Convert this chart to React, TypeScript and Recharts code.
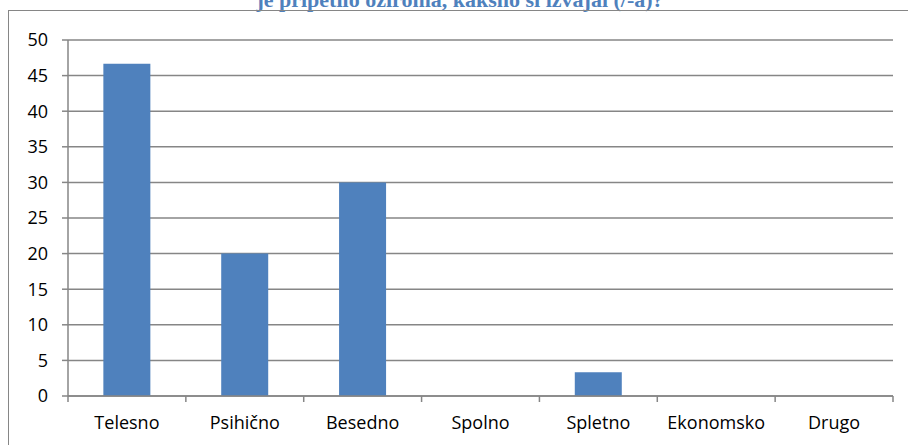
import { BarChart, Bar, XAxis, YAxis, CartesianGrid } from 'recharts';

const categories = ['Telesno', 'Psihično', 'Besedno', 'Spolno', 'Spletno', 'Ekonomsko', 'Drugo'];
const percentages = [46.67, 20, 30, 0, 3.33, 0, 0];
const yTicks = [0, 5, 10, 15, 20, 25, 30, 35, 40, 45, 50];
const titleText = 'je pripetilo oziroma, kakšno si izvajal (/-a)?';

const data = categories.map((name, i) => ({ name, value: percentages[i] }));

const GRID = '#868686';
const BAR = '#4F81BD';
const FONT = '"Open Sans", sans-serif';

function CategoryTick(props: any) {
    const { x, y, payload, index, visibleTicksCount, width } = props;
    const half = payload.offset ?? width / (2 * visibleTicksCount);
    const last = index === visibleTicksCount - 1;
    return (
        <g>
            <line x1={x - half} x2={x - half} y1={y} y2={y + 6} stroke={GRID} strokeWidth={1.5} />
            {last && <line x1={x + half} x2={x + half} y1={y} y2={y + 6} stroke={GRID} strokeWidth={1.5} />}
            <text x={x} y={y + 33} textAnchor="middle" fill="#000" fontFamily={FONT} fontSize={18}>{payload.value}</text>
        </g>
    );
}

export default function App() {
    return (
        <div style={{ position: 'absolute', left: 0, top: 0, width: 908, height: 445, background: '#fff', overflow: 'hidden' }}>
            {/* title is cropped at the top in the source image */}
            <div style={{ position: 'absolute', left: 0, width: 920, top: -13, textAlign: 'center', fontFamily: '"Liberation Serif", serif', fontWeight: 'bold', fontSize: 22, color: BAR, whiteSpace: 'nowrap' }}>{titleText}</div>
            <div style={{ position: 'absolute', left: 8, top: 10, width: 920, height: 460, borderTop: `1.5px solid ${GRID}`, borderLeft: `1.5px solid ${GRID}` }} />
            <div style={{ position: 'absolute', left: 0, top: 0 }}>
                <BarChart width={908} height={445} data={data} margin={{ top: 40, right: 15, bottom: 19, left: 8 }} barCategoryGap="30%">
                    <CartesianGrid vertical={false} stroke={GRID} strokeWidth={1.5} />
                    <XAxis dataKey="name" height={30} axisLine={{ stroke: GRID, strokeWidth: 1.5 }} tickLine={false} tickSize={0} tickMargin={0} interval={0} tick={<CategoryTick />} />
                    <YAxis width={60} domain={[0, 50]} ticks={yTicks} interval={0} axisLine={{ stroke: GRID, strokeWidth: 1.5 }} tickLine={{ stroke: GRID, strokeWidth: 1.5 }} tickSize={6} tickMargin={14} tick={{ fill: '#000', fontFamily: FONT, fontSize: 18 }} />
                    <Bar dataKey="value" fill={BAR} isAnimationActive={false} />
                </BarChart>
            </div>
        </div>
    );
}
